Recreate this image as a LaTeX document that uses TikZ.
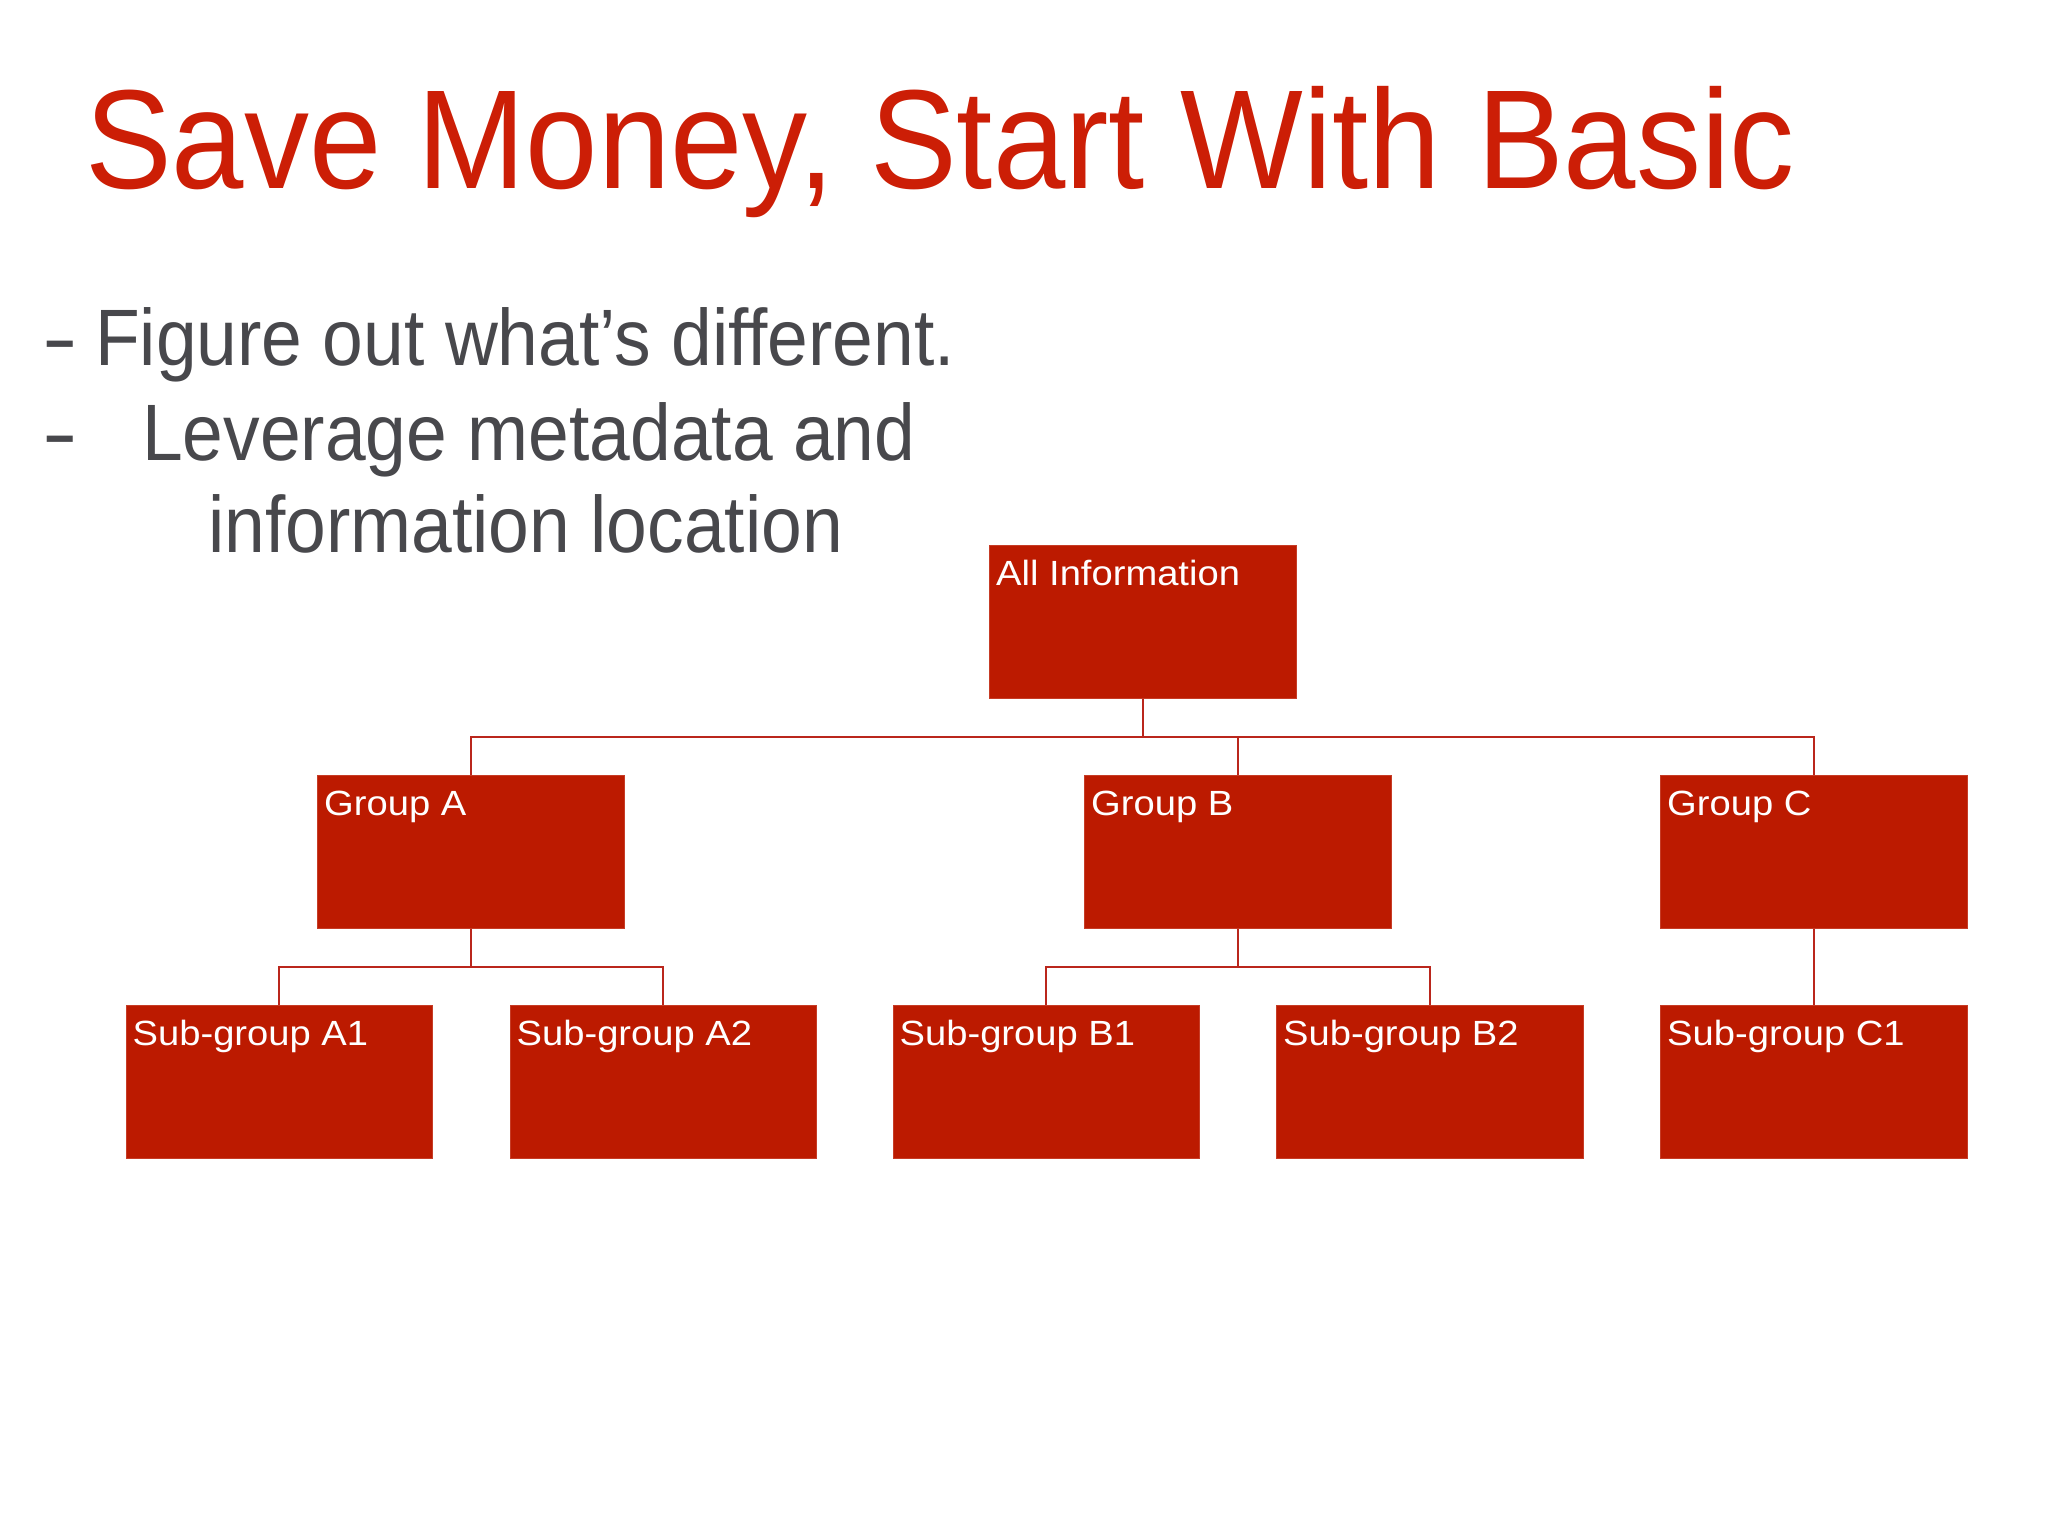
\documentclass[tikz,border=0pt]{standalone}
\usepackage{fontspec}
\setmainfont{Liberation Sans}
\usepackage{graphicx}
\definecolor{titlered}{RGB}{204,30,6}
\definecolor{boxred}{RGB}{188,26,0}
\definecolor{txtgray}{RGB}{72,72,76}
\definecolor{linered}{RGB}{186,38,28}
\tikzset{
  orgbox/.style={rectangle, fill=boxred, draw=boxred!85!white, line width=0.8pt, minimum width=306.5pt, minimum height=153pt, inner sep=0pt, anchor=north west},
  lbl/.style={text=white, inner sep=0pt, anchor=base west, font=\fontsize{35}{40}\selectfont},
  conn/.style={draw=linered, line width=2pt},
  bullet/.style={text=txtgray, inner sep=0pt, anchor=base west, font=\fontsize{80}{90}\selectfont},
}
\newcommand{\bx}[1]{\scalebox{1.09}[1]{#1}}
\newcommand{\bt}[1]{\scalebox{0.915}[1]{#1}}
\begin{document}
\begin{tikzpicture}[x=1pt,y=-1pt]
\useasboundingbox[fill=white] (0,0) rectangle (2048,1536);
% title
\node[text=titlered, inner sep=0pt, anchor=base west, font=\fontsize{141}{150}\selectfont] (title) at (85,188) {\scalebox{0.922}[1]{Save Money, Start With Basic}};
% bullets
\node[bullet] (d1) at (42,365) {\scalebox{1.33}[1]{-}};
\node[bullet] (b1) at (95,365) {\bt{Figure out what’s different.}};
\node[bullet] (d2) at (42,460) {\scalebox{1.33}[1]{-}};
\node[bullet] (b2) at (142,460) {\bt{Leverage metadata and}};
\node[bullet] (b3) at (208,552) {\bt{information location}};
% boxes
\node[orgbox] (all) at (989,545) {};
\node[orgbox] (gA) at (317,775) {};
\node[orgbox] (gB) at (1084,775) {};
\node[orgbox] (gC) at (1660,775) {};
\node[orgbox] (a1) at (125.5,1005) {};
\node[orgbox] (a2) at (509.5,1005) {};
\node[orgbox] (b1x) at (892.5,1005) {};
\node[orgbox] (b2x) at (1276,1005) {};
\node[orgbox] (c1) at (1660,1005) {};
% labels
\node[lbl] (tall) at ([xshift=7pt,yshift=-40pt]all.north west) {\bx{All Information}};
\node[lbl] (tgA) at ([xshift=7pt,yshift=-40pt]gA.north west) {\bx{Group A}};
\node[lbl] (tgB) at ([xshift=7pt,yshift=-40pt]gB.north west) {\bx{Group B}};
\node[lbl] (tgC) at ([xshift=7pt,yshift=-40pt]gC.north west) {\bx{Group C}};
\node[lbl] (ta1) at ([xshift=7pt,yshift=-40pt]a1.north west) {\bx{Sub-group A1}};
\node[lbl] (ta2) at ([xshift=7pt,yshift=-40pt]a2.north west) {\bx{Sub-group A2}};
\node[lbl] (tb1) at ([xshift=7pt,yshift=-40pt]b1x.north west) {\bx{Sub-group B1}};
\node[lbl] (tb2) at ([xshift=7pt,yshift=-40pt]b2x.north west) {\bx{Sub-group B2}};
\node[lbl] (tc1) at ([xshift=7pt,yshift=-40pt]c1.north west) {\bx{Sub-group C1}};
% bus coordinates
\coordinate (busTop) at (0,736.5);
\coordinate (busA) at (0,966.5);
\coordinate (busB) at (0,966.5);
% connectors
\draw[conn] (all.south) -- (all.south |- busTop) -| (gA.north);
\draw[conn] (all.south |- busTop) -| (gB.north);
\draw[conn] (all.south |- busTop) -| (gC.north);
\draw[conn] (gA.south) -- (gA.south |- busA) -| (a1.north);
\draw[conn] (gA.south |- busA) -| (a2.north);
\draw[conn] (gB.south) -- (gB.south |- busB) -| (b1x.north);
\draw[conn] (gB.south |- busB) -| (b2x.north);
\draw[conn] (gC.south) -- (c1.north);
\end{tikzpicture}
\end{document}
